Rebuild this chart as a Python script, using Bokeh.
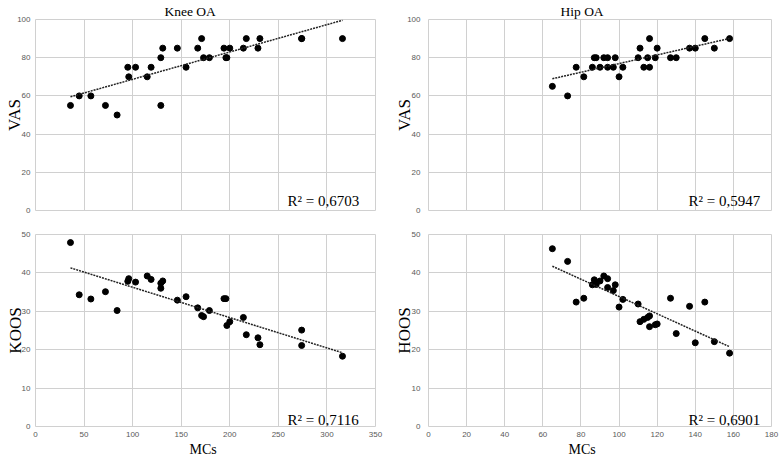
import numpy as np
from bokeh.plotting import figure
from bokeh.models import Label, Range1d, FixedTicker, Title
from bokeh.layouts import column, row
from bokeh.embed import file_html
from bokeh.resources import INLINE

# ---------------- data ----------------
knee_mcs = [36, 45, 57, 72, 84, 95, 96, 103, 115, 119, 129, 129, 131, 146, 155,
            167, 171, 173, 179, 194, 196, 197, 200, 214, 217, 229, 231, 274, 274, 316]
knee_vas = [55, 60, 60, 55, 50, 75, 70, 75, 70, 75, 80, 55, 85, 85, 75,
            85, 90, 80, 80, 85, 80, 80, 85, 85, 90, 85, 90, 90, 90, 90]
knee_koos = [47.9, 34.3, 33.2, 35.1, 30.2, 37.8, 38.5, 37.6, 39.2, 38.3, 36.0, 37.3, 37.9, 32.9, 33.8,
             30.9, 28.9, 28.6, 30.2, 33.3, 33.3, 26.3, 27.3, 28.4, 23.9, 23.1, 21.3, 25.1, 21.1, 18.3]

hip_mcs = [65, 73, 77.5, 81.5, 86, 87, 88, 90, 92, 94, 94, 97, 98, 100, 102,
           110, 111, 113, 115, 116, 116, 119, 120, 127, 130, 137, 140, 145, 150, 158]
hip_vas = [65, 60, 75, 70, 75, 80, 80, 75, 80, 80, 75, 75, 80, 70, 75,
           80, 85, 75, 80, 90, 75, 80, 85, 80, 80, 85, 85, 90, 85, 90]
hip_hoos = [46.3, 43.0, 32.4, 33.4, 36.9, 38.2, 37.0, 37.9, 39.2, 38.5, 36.2, 35.4, 36.9, 31.1, 33.1,
            31.9, 27.3, 27.9, 28.4, 28.8, 26.0, 26.5, 26.7, 33.4, 24.2, 31.3, 21.8, 32.4, 22.1, 19.1]

knee_xticks = [0, 50, 100, 150, 200, 250, 300, 350]
hip_xticks = [0, 20, 40, 60, 80, 100, 120, 140, 160, 180]
vas_yticks = [0, 20, 40, 60, 80, 100]
score_yticks = [0, 10, 20, 30, 40, 50]

titles = ["Knee OA", "Hip OA"]
y_labels = ["VAS", "VAS", "KOOS", "HOOS"]
x_label = "MCs"
r2_texts = ["R\u00b2 = 0,6703", "R\u00b2 = 0,5947", "R\u00b2 = 0,7116", "R\u00b2 = 0,6901"]

SERIF = "Liberation Serif"
SANS = "Liberation Sans"
GRID = "#d0d0d0"
FIG_W = 390


def panel(xs, ys, xticks, yticks, left, is_top, title, ylab, r2):
    three_digit = max(yticks) >= 100
    if left:
        bl, br = 35, 15
        x0 = 0
        tick_stand = 5
        lab_stand = -10 if three_digit else -6
        r2_x = 287 - (x0 + bl)
        title_off = 164 - (x0 + bl)
        xlab_off = 189 - (x0 + bl)
    else:
        bl, br = 38, 9
        x0 = FIG_W
        tick_stand = 8
        lab_stand = -10 if three_digit else -5
        r2_x = 688 - (x0 + bl)
        title_off = 560 - (x0 + bl)
        xlab_off = 568 - (x0 + bl)
    if is_top:
        bt, bb, h = 18, 14, 224
    else:
        bt, bb, h = 10, 29, 232

    p = figure(width=FIG_W, height=h,
               x_range=Range1d(xticks[0], xticks[-1]),
               y_range=Range1d(yticks[0], yticks[-1]),
               output_backend="svg", toolbar_location=None,
               min_border_left=bl, min_border_right=br,
               min_border_top=bt, min_border_bottom=bb)
    p.background_fill_color = "white"
    p.border_fill_color = "white"
    p.outline_line_color = GRID
    p.outline_line_width = 1

    p.xaxis.ticker = FixedTicker(ticks=xticks)
    p.yaxis.ticker = FixedTicker(ticks=yticks)
    p.xgrid.ticker = FixedTicker(ticks=xticks)
    p.ygrid.ticker = FixedTicker(ticks=yticks)
    for g in (p.xgrid, p.ygrid):
        g.grid_line_color = GRID
        g.grid_line_width = 1
    for ax in (p.xaxis, p.yaxis):
        ax.axis_line_color = None
        ax.major_tick_line_color = None
        ax.minor_tick_line_color = None
        ax.major_tick_out = 0
        ax.major_tick_in = 0
        ax.major_label_text_font = SANS
        ax.major_label_text_font_size = "8px"
        ax.major_label_text_color = "#595959"
        ax.axis_label_text_font = SERIF
        ax.axis_label_text_font_style = "normal"
        ax.axis_label_text_color = "black"
    p.yaxis.major_label_standoff = tick_stand
    p.xaxis.major_label_standoff = 5
    p.yaxis.axis_label = ylab
    p.yaxis.axis_label_text_font_size = "17px"
    p.yaxis.axis_label_standoff = lab_stand
    if is_top:
        p.xaxis.visible = False
        p.title.text = title
        p.title.align = "left"
        p.title.offset = title_off
        p.title.text_font = SERIF
        p.title.text_font_size = "13.5px"
        p.title.text_font_style = "normal"
        p.title.text_color = "black"
        p.title.standoff = 2
    else:
        p.add_layout(Title(text=x_label, align="left", offset=xlab_off,
                           text_font=SERIF, text_font_size="14px",
                           text_font_style="normal", text_color="black",
                           standoff=0), "below")

    p.scatter(xs, ys, size=6, color="black")

    coef = np.polyfit(xs, ys, 1)
    lx = np.array([min(xs), max(xs)], dtype=float)
    p.line(lx, np.polyval(coef, lx), line_dash="2 1", line_width=1.5, color="#222222")

    p.add_layout(Label(x=r2_x, y=(10 if is_top else 7), x_units="screen", y_units="screen",
                       text=r2, text_font=SERIF, text_font_size="15px", text_color="black",
                       text_align="left", text_baseline="alphabetic"))
    return p


p1 = panel(knee_mcs, knee_vas, knee_xticks, vas_yticks, True, True, titles[0], y_labels[0], r2_texts[0])
p2 = panel(hip_mcs, hip_vas, hip_xticks, vas_yticks, False, True, titles[1], y_labels[1], r2_texts[1])
p3 = panel(knee_mcs, knee_koos, knee_xticks, score_yticks, True, False, None, y_labels[2], r2_texts[2])
p4 = panel(hip_mcs, hip_hoos, hip_xticks, score_yticks, False, False, None, y_labels[3], r2_texts[3])

layout = column(row(p1, p2), row(p3, p4))

with open("out.html", "w") as f:
    f.write(file_html(layout, INLINE))
